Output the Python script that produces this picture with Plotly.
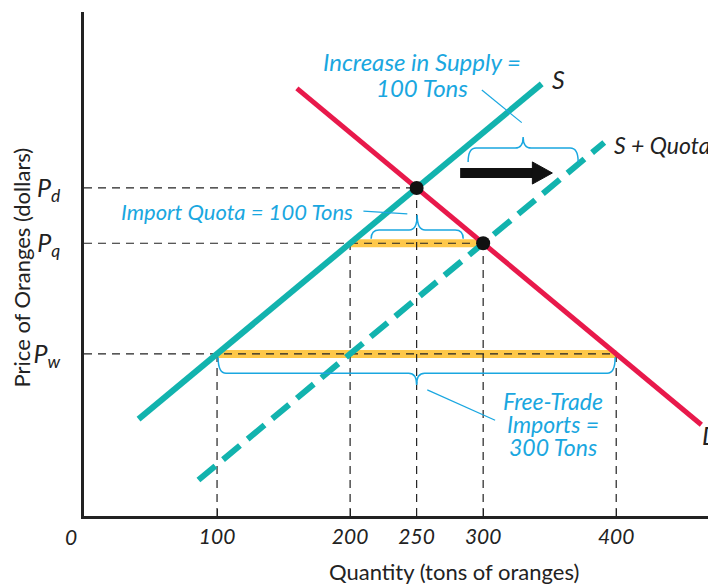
import plotly.graph_objects as go

# ---------------- data ----------------
x_tick_vals = [100, 200, 250, 300, 400]
x_tick_text = ["100", "200", "250", "300", "400"]
price_levels = [6, 5, 3]                      # Pd, Pq, Pw
price_labels = ["<i>P</i><sub><i>d</i></sub>", "<i>P</i><sub><i>q</i></sub>", "<i>P</i><sub><i>w</i></sub>"]

supply_q = [41, 344]
supply_p = [1.82, 7.88]
quota_q = [86, 391]
quota_p = [0.72, 6.82]
demand_q = [160, 464]
demand_p = [7.8, 1.72]

# equilibrium / reference points
eq_q = [250, 300]
eq_p = [6, 5]
# horizontal guides: (price, end quantity)
hguide_p = [6, 5, 3]
hguide_q = [250, 300, 400]
# vertical guides: (quantity, top price)
vguide_q = [100, 200, 250, 300, 400]
vguide_p = [3, 5, 6, 5, 3]
# highlighted import segments
quota_seg_q = [200, 300]
quota_seg_p = 5
free_seg_q = [100, 400]
free_seg_p = 3

Y0, Y1 = 0.07, 9.18
X0, X1 = 0, 475

TEAL = "#12B3AE"
RED = "#E8194B"
CYAN = "#1AA7E0"
YELLOW = "#FEC84A"
FONT = "Lato"

fig = go.Figure()

# yellow bands
fig.add_trace(go.Scatter(x=quota_seg_q, y=[quota_seg_p]*2, mode="lines",
                         line=dict(color=YELLOW, width=8), hoverinfo="skip"))
fig.add_trace(go.Scatter(x=free_seg_q, y=[free_seg_p]*2, mode="lines",
                         line=dict(color=YELLOW, width=8), hoverinfo="skip"))

# dashed guides
for p, q in zip(hguide_p, hguide_q):
    fig.add_trace(go.Scatter(x=[X0, q], y=[p, p], mode="lines",
                             line=dict(color="#222", width=1.2, dash="8px,6px"), hoverinfo="skip"))
for q, p in zip(vguide_q, vguide_p):
    fig.add_trace(go.Scatter(x=[q, q], y=[Y0, p], mode="lines",
                             line=dict(color="#222", width=1.2, dash="8px,6px"), hoverinfo="skip"))

# curves
fig.add_trace(go.Scatter(x=supply_q, y=supply_p, mode="lines",
                         line=dict(color=TEAL, width=6), hoverinfo="skip"))
fig.add_trace(go.Scatter(x=quota_q, y=quota_p, mode="lines",
                         line=dict(color=TEAL, width=6, dash="22px,10px"), hoverinfo="skip"))
fig.add_trace(go.Scatter(x=demand_q, y=demand_p, mode="lines",
                         line=dict(color=RED, width=5), hoverinfo="skip"))
fig.add_trace(go.Scatter(x=eq_q, y=eq_p, mode="markers",
                         marker=dict(color="#111", size=14), hoverinfo="skip"))


def brace(x0, x1, y_end, y_mid, y_tip, rx):
    xm = (x0 + x1) / 2
    return (f"M {x0},{y_end} Q {x0},{y_mid} {x0+rx},{y_mid} L {xm-rx},{y_mid} "
            f"Q {xm},{y_mid} {xm},{y_tip} Q {xm},{y_mid} {xm+rx},{y_mid} "
            f"L {x1-rx},{y_mid} Q {x1},{y_mid} {x1},{y_end}")


shapes = [
    dict(type="path", path=brace(288.7, 371.4, 6.47, 6.72, 6.92, 6), line=dict(color=CYAN, width=1.5)),
    dict(type="path", path=brace(215.8, 285.0, 5.08, 5.24, 5.51, 6), line=dict(color=CYAN, width=1.5)),
    dict(type="path", path=brace(100.8, 399.2, 2.94, 2.65, 2.44, 6), line=dict(color=CYAN, width=1.5)),
    # leaders
    dict(type="line", x0=299, y0=7.77, x1=329, y1=7.18, line=dict(color=CYAN, width=1.2)),
    dict(type="line", x0=210, y0=5.58, x1=243, y1=5.53, line=dict(color=CYAN, width=1.2)),
    dict(type="line", x0=258, y0=2.35, x1=309, y1=1.80, line=dict(color=CYAN, width=1.2)),
    # arrow
    dict(type="line", x0=282.7, y0=6.27, x1=339, y1=6.27, line=dict(color="#111", width=10)),
    dict(type="path", path="M 337,6.47 L 352,6.27 L 337,6.07 Z", fillcolor="#111",
         line=dict(color="#111", width=1)),
]

annotations = []
def txt(x, y, s, size=20, color=CYAN, xanchor="center", italic=True, xref="x", yref="y", angle=0):
    annotations.append(dict(x=x, y=y, xref=xref, yref=yref, text=s, showarrow=False,
                            xanchor=xanchor, yanchor="middle", textangle=angle,
                            font=dict(family=FONT, size=size, color=color,
                                      style="italic" if italic else "normal")))

txt(254, 8.28, "Increase in Supply =", size=24)
txt(254, 7.81, "100 Tons", size=24)
txt(204, 5.58, "Import Quota = 100 Tons", size=22, xanchor="right")
txt(352.6, 2.15, "Free-Trade", size=23)
txt(352.6, 1.73, "Imports =", size=23)
txt(352.6, 1.31, "300 Tons", size=23)
txt(350, 7.97, "S", size=25, color="#222", xanchor="left")
txt(397, 6.78, "S + Quota", size=23, color="#222", xanchor="left")
txt(463, 1.53, "D", size=25, color="#222", xanchor="left")
txt(-0.021, -0.04, "0", size=21, color="#222", xref="paper", yref="paper")
txt(0.585, -0.111, "Quantity (tons of oranges)", size=22, color="#222", italic=False,
    xref="paper", yref="paper")
txt(-0.099, 0.494, "Price of Oranges (dollars)", size=22, color="#222", italic=False,
    xref="paper", yref="paper", angle=-90)

# page body has an 8px margin: size/margins compensate so the plot area lands at 84..716 x 12..516
fig.update_layout(
    width=708, height=578,
    margin=dict(l=76, r=0, t=4, b=70, autoexpand=False),
    paper_bgcolor="white", plot_bgcolor="white",
    showlegend=False,
    shapes=shapes,
    annotations=annotations,
    xaxis=dict(range=[X0, X1], showgrid=False, zeroline=False, showline=True, automargin=False,
               linecolor="#222", linewidth=2.5, ticks="inside", ticklen=7, tickcolor="#222",
               tickvals=x_tick_vals, ticktext=x_tick_text, ticklabelstandoff=0,
               tickfont=dict(family=FONT, size=21, color="#222", style="italic")),
    yaxis=dict(range=[Y0, Y1], showgrid=False, zeroline=False, showline=True, automargin=False,
               linecolor="#222", linewidth=2.5, ticks="",
               tickvals=price_levels, ticktext=price_labels, ticklabelstandoff=16,
               tickfont=dict(family=FONT, size=25, color="#222")),
)

fig.write_html("out.html")
